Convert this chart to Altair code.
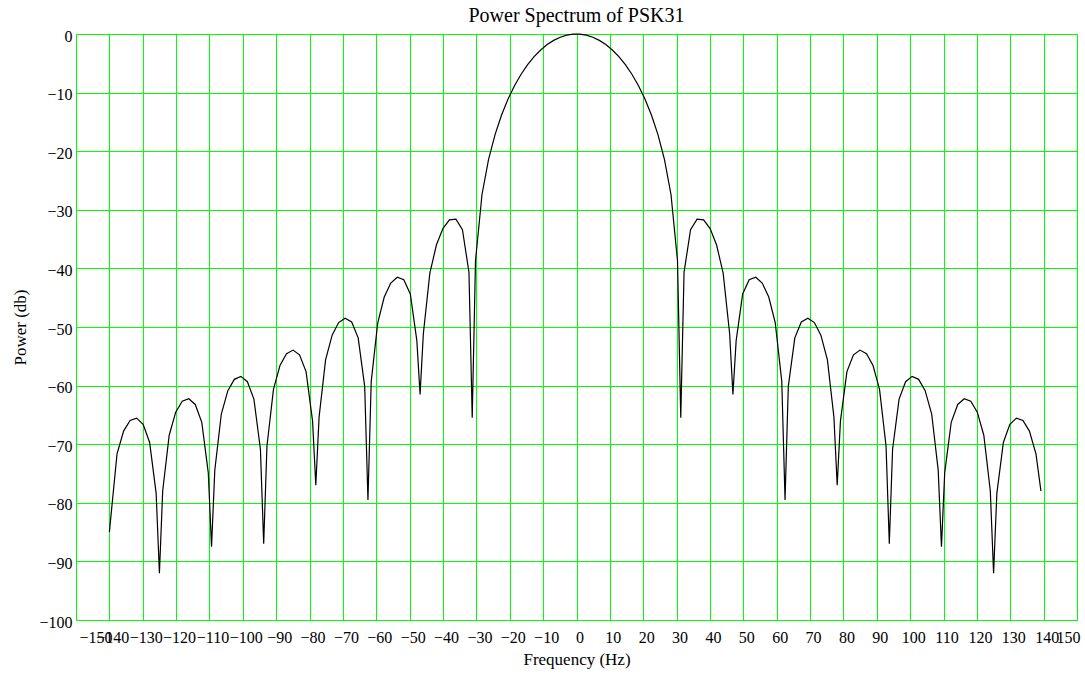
import altair as alt
import pandas as pd

# Frequency (Hz) and power (dB) samples
freq_hz = [
    -140.00, -137.70, -135.74, -133.79, -131.84, -129.88, -127.93, -125.98, -125.00,
    -124.02, -122.07, -120.12, -118.16, -116.21, -114.26, -112.30, -110.35, -109.38,
    -108.40, -106.45, -104.49, -102.54, -100.59, -98.63, -96.68, -94.73, -93.75,
    -92.77, -90.82, -88.87, -86.91, -84.96, -83.01, -81.05, -79.10, -78.13,
    -77.15, -75.20, -73.24, -71.29, -69.34, -67.38, -65.43, -63.48, -62.50,
    -61.52, -59.57, -57.62, -55.66, -53.71, -51.76, -49.80, -47.85, -46.88,
    -45.90, -43.95, -41.99, -40.04, -38.09, -36.13, -34.18, -32.23, -31.25,
    -30.27, -28.32, -26.37, -24.41, -22.46, -20.51, -18.55, -16.60, -14.65,
    -12.70, -10.74, -8.79, -6.84, -4.88, -2.93, -0.98, 0.00,
    0.98, 2.93, 4.88, 6.84, 8.79, 10.74, 12.70, 14.65, 16.60, 18.55, 20.51,
    22.46, 24.41, 26.37, 28.32, 30.27, 31.25,
    32.23, 34.18, 36.13, 38.09, 40.04, 41.99, 43.95, 45.90, 46.88,
    47.85, 49.80, 51.76, 53.71, 55.66, 57.62, 59.57, 61.52, 62.50,
    63.48, 65.43, 67.38, 69.34, 71.29, 73.24, 75.20, 77.15, 78.13,
    79.10, 81.05, 83.01, 84.96, 86.91, 88.87, 90.82, 92.77, 93.75,
    94.73, 96.68, 98.63, 100.59, 102.54, 104.49, 106.45, 108.40, 109.38,
    110.35, 112.30, 114.26, 116.21, 118.16, 120.12, 122.07, 124.02, 125.00,
    125.98, 127.93, 129.88, 131.84, 133.79, 135.74, 137.70, 139.20,
]

power_db = [
    -85.0, -71.64, -67.76, -65.95, -65.56, -66.60, -69.70, -78.39, -92.0,
    -77.98, -68.47, -64.54, -62.68, -62.24, -63.22, -66.27, -74.89, -87.5,
    -74.42, -64.85, -60.86, -58.93, -58.42, -59.33, -62.30, -70.85, -87.0,
    -70.30, -60.64, -56.57, -54.54, -53.94, -54.75, -57.61, -66.05, -77.0,
    -65.38, -55.60, -51.40, -49.24, -48.49, -49.15, -51.85, -60.12, -79.5,
    -59.27, -49.30, -44.88, -42.51, -41.52, -41.92, -44.35, -52.32, -61.5,
    -51.14, -40.82, -36.01, -33.20, -31.73, -31.59, -33.40, -40.67, -65.5,
    -38.68, -27.39, -21.42, -17.16, -13.82, -11.09, -8.80, -6.87, -5.24,
    -3.87, -2.73, -1.81, -1.09, -0.55, -0.20, -0.02, 0.0,
    -0.02, -0.20, -0.55, -1.09, -1.81, -2.73, -3.87, -5.24, -6.87, -8.80, -11.09,
    -13.82, -17.16, -21.42, -27.39, -38.68, -65.5,
    -40.67, -33.40, -31.59, -31.73, -33.20, -36.01, -40.82, -51.14, -61.5,
    -52.32, -44.35, -41.92, -41.52, -42.51, -44.88, -49.30, -59.27, -79.5,
    -60.12, -51.85, -49.15, -48.49, -49.24, -51.40, -55.60, -65.38, -77.0,
    -66.05, -57.61, -54.75, -53.94, -54.54, -56.57, -60.64, -70.30, -87.0,
    -70.85, -62.30, -59.33, -58.42, -58.93, -60.86, -64.85, -74.42, -87.5,
    -74.89, -66.27, -63.22, -62.24, -62.68, -64.54, -68.47, -77.98, -92.0,
    -78.39, -69.70, -66.60, -65.56, -65.95, -67.76, -71.64, -78.0,
]

x_ticks = [-150, -140, -130, -120, -110, -100, -90, -80, -70, -60, -50, -40, -30,
           -20, -10, 0, 10, 20, 30, 40, 50, 60, 70, 80, 90, 100, 110, 120, 130, 140, 150]
y_ticks = [-100, -90, -80, -70, -60, -50, -40, -30, -20, -10, 0]

df = pd.DataFrame({"freq": freq_hz, "power": power_db})

FONT = "Liberation Serif"
GRID = "#00ff00"

chart = (
    alt.Chart(df)
    .mark_line(color="black", strokeWidth=1.2)
    .encode(
        x=alt.X(
            "freq:Q",
            scale=alt.Scale(domain=[-150, 150], nice=False, zero=False),
            axis=alt.Axis(
                values=x_ticks,
                title="Frequency (Hz)",
                grid=True,
                gridColor=GRID,
                gridWidth=1,
                ticks=False,
                domain=False,
                labelOverlap=False,
                labelFlush=True,
                labelOffset=3,
                labelPadding=9,
                labelFont=FONT,
                labelFontSize=16,
                labelColor="black",
                titleFont=FONT,
                titleFontSize=17,
                titleFontWeight="normal",
                titleColor="black",
                titlePadding=6,
            ),
        ),
        y=alt.Y(
            "power:Q",
            scale=alt.Scale(domain=[-100, 0], nice=False, zero=False),
            axis=alt.Axis(
                values=y_ticks,
                title="Power (db)",
                grid=True,
                gridColor=GRID,
                gridWidth=1,
                ticks=False,
                domain=False,
                labelOverlap=False,
                labelFlush=False,
                labelOffset=2,
                labelPadding=4,
                labelFont=FONT,
                labelFontSize=16,
                labelColor="black",
                titleFont=FONT,
                titleFontSize=17,
                titleFontWeight="normal",
                titleColor="black",
                titlePadding=9,
            ),
        ),
    )
    .properties(
        width=1001,
        height=586,
        title=alt.TitleParams(
            "Power Spectrum of PSK31",
            font=FONT,
            fontSize=20,
            fontWeight="normal",
            color="black",
            anchor="middle",
            offset=2,
        ),
        autosize=alt.AutoSizeParams(type="none"),
        padding={"left": 76, "top": 34, "right": 8, "bottom": 57},
    )
    .configure_view(stroke="#1f4a1f", strokeWidth=2)
    .configure(background="white")
)

chart.save("out.html", embed_options={"renderer": "svg", "actions": False})
